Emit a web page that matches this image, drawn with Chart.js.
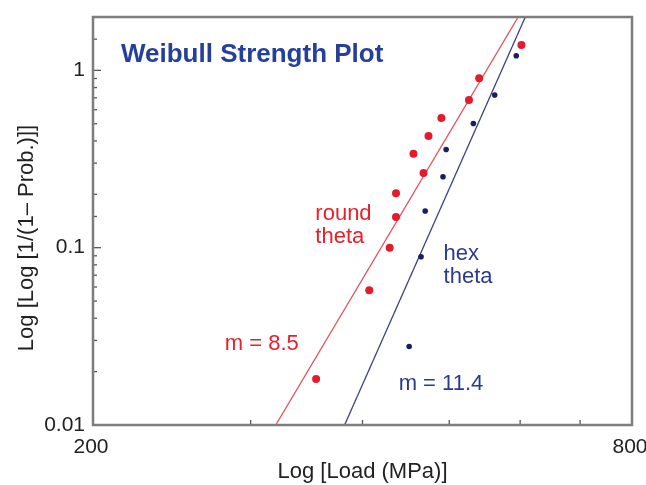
<!DOCTYPE html>
<html>
<head>
<meta charset="UTF-8">
<title>Weibull Strength Plot</title>
<script src="https://cdn.jsdelivr.net/npm/chart.js@4.4.1/dist/chart.umd.min.js"></script>
<style>
  html, body { margin: 0; padding: 0; background: #fff; }
</style>
</head>
<body>
<canvas id="grafica" width="646" height="485"></canvas>
<script>
// values: load (MPa) and log(1/(1-P))
var roundLoad = [355, 407, 429, 436, 436, 456, 468, 474, 490, 526, 540, 602];
var roundProb = [0.0182, 0.0576, 0.100, 0.149, 0.203, 0.339, 0.264, 0.426, 0.538, 0.681, 0.903, 1.39];
var hexLoad = [451, 465, 470, 492, 496, 532, 562, 594];
var hexProb = [0.0277, 0.0889, 0.161, 0.251, 0.358, 0.502, 0.727, 1.21];

// fitted lines (m = 8.5 and m = 11.4), ends on the frame
var roundFitLoad = [320, 597];
var roundFitProb = [0.01, 2];
var hexFitLoad = [382, 608];
var hexFitProb = [0.01, 2];

var xTickLabels = [200, 800];
var xMinorTicks = [300, 400, 500, 600, 700];
var yTickLabels = [0.01, 0.1, 1];

var familia = '"Liberation Sans", Arial, Helvetica, sans-serif';
Chart.defaults.font.family = familia;

function puntos(xs, ys) {
  return xs.map(function (v, i) { return { x: v, y: ys[i] }; });
}
function esDecada(v) {
  var l = Math.log10(v);
  return Math.abs(l - Math.round(l)) < 1e-6;
}

// notes in data units
var notas = [
  { text: 'Weibull Strength Plot', x: 214.9, y: 1.109, color: '#25409a', font: 'bold 26px ' + familia, align: 'left' },
  { text: 'round', x: 354.3, y: 0.1435, color: '#e8202a', font: '22px ' + familia, align: 'left' },
  { text: 'theta', x: 354.3, y: 0.1067, color: '#e8202a', font: '22px ' + familia, align: 'left' },
  { text: 'hex', x: 492.8, y: 0.0852, color: '#2b3a8f', font: '22px ' + familia, align: 'left' },
  { text: 'theta', x: 492.8, y: 0.0629, color: '#2b3a8f', font: '22px ' + familia, align: 'left' },
  { text: 'm = 8.5', x: 339.5, y: 0.02657, color: '#e8202a', font: '22px ' + familia, align: 'right' },
  { text: 'm = 11.4', x: 439, y: 0.01576, color: '#2b3a8f', font: '22px ' + familia, align: 'left' }
];

var marco = {
  id: 'marco',
  afterDraw: function (chart) {
    var ctx = chart.ctx, a = chart.chartArea;
    var sx = chart.scales.x, sy = chart.scales.y;
    ctx.save();

    // ticks pointing into the plot
    ctx.strokeStyle = '#555';
    ctx.lineWidth = 1.3;
    xMinorTicks.forEach(function (v) {
      var px = sx.getPixelForValue(v);
      ctx.beginPath();
      ctx.moveTo(px, a.bottom);
      ctx.lineTo(px, a.bottom - 5);
      ctx.stroke();
    });
    sy.ticks.forEach(function (t) {
      if (t.value >= sy.max) return;
      var py = sy.getPixelForValue(t.value);
      ctx.beginPath();
      ctx.moveTo(a.left, py);
      ctx.lineTo(a.left + (esDecada(t.value) ? 8 : 4), py);
      ctx.stroke();
    });

    ctx.strokeStyle = '#7d7d7d';
    ctx.lineWidth = 2.5;
    ctx.strokeRect(a.left, a.top, a.right - a.left, a.bottom - a.top);

    notas.forEach(function (n) {
      ctx.font = n.font;
      ctx.fillStyle = n.color;
      ctx.textAlign = n.align;
      ctx.textBaseline = 'alphabetic';
      ctx.fillText(n.text, sx.getPixelForValue(n.x), sy.getPixelForValue(n.y));
    });

    // y axis title
    ctx.translate(32.5, 238);
    ctx.rotate(-Math.PI / 2);
    ctx.font = '22px ' + familia;
    ctx.fillStyle = '#222';
    ctx.textAlign = 'center';
    ctx.fillText('Log [Log [1/(1\u2013 Prob.)]]', 0, 0);
    ctx.restore();
  }
};

var chart = new Chart(document.getElementById('grafica').getContext('2d'), {
  type: 'scatter',
  data: {
    datasets: [
      { label: 'round theta', data: puntos(roundLoad, roundProb), backgroundColor: '#e41b2b', borderColor: '#e41b2b', pointRadius: 4, borderWidth: 0 },
      { label: 'hex theta', data: puntos(hexLoad, hexProb), backgroundColor: '#1b1e5e', borderColor: '#1b1e5e', pointRadius: 2.8, borderWidth: 0 },
      { label: 'fit round', data: puntos(roundFitLoad, roundFitProb), showLine: true, pointRadius: 0, borderColor: '#e4505d', borderWidth: 1.3 },
      { label: 'fit hex', data: puntos(hexFitLoad, hexFitProb), showLine: true, pointRadius: 0, borderColor: '#3c4282', borderWidth: 1.3 }
    ]
  },
  options: {
    responsive: false,
    animation: false,
    layout: { padding: { left: 0, right: 14, top: 17, bottom: 0 } },
    plugins: { legend: { display: false }, tooltip: { enabled: false } },
    scales: {
      x: {
        type: 'logarithmic',
        min: 200,
        max: 800,
        grid: { display: false, drawTicks: false },
        border: { display: false },
        ticks: {
          autoSkip: false,
          maxRotation: 0,
          padding: 10,
          labelOffset: -2,
          color: '#222',
          font: { size: 21 },
          callback: function (v) { return xTickLabels.indexOf(v) >= 0 ? String(v) : ''; }
        },
        title: { display: true, text: 'Log [Load (MPa)]', color: '#222', font: { size: 22 }, padding: { top: 0, bottom: 0 } },
        afterFit: function (s) { s.height = 60; s.paddingLeft = 0; s.paddingRight = 0; }
      },
      y: {
        type: 'logarithmic',
        min: 0.01,
        max: 2,
        grid: { display: false, drawTicks: false },
        border: { display: false },
        ticks: {
          autoSkip: false,
          padding: 8,
          color: '#222',
          font: { size: 21 },
          callback: function (v) {
            for (var i = 0; i < yTickLabels.length; i++) {
              if (Math.abs(v - yTickLabels[i]) < yTickLabels[i] * 1e-6) return String(yTickLabels[i]);
            }
            return '';
          }
        },
        afterFit: function (s) { s.width = 93; s.paddingTop = 0; s.paddingBottom = 0; }
      }
    }
  },
  plugins: [marco]
});
</script>
</body>
</html>
